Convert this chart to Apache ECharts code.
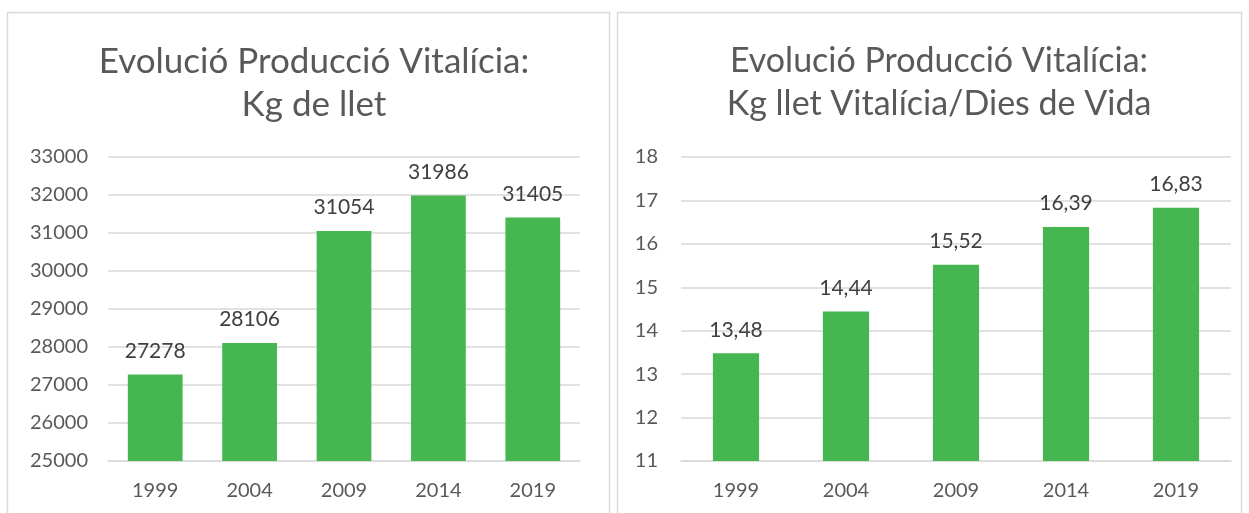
<!DOCTYPE html>
<html lang="ca">
  <head>
    <meta charset="UTF-8" />
    <title>Evolució Producció Vitalícia</title>
    <style>
      html, body { margin: 0; padding: 0; background: #fff; }
      #main { width: 1249px; height: 513px; }
    </style>
  </head>
  <body>
    <div id="main"></div>
  </body>
  <script src="https://cdn.jsdelivr.net/npm/echarts@6/dist/echarts.min.js"></script>
  <script>
    /* globals echarts */
    var years = ["1999", "2004", "2009", "2014", "2019"];
    var kgLlet = [27278, 28106, 31054, 31986, 31405];
    var kgPerDia = [13.48, 14.44, 15.52, 16.39, 16.83];

    var FONT = "Lato";
    var GREEN = "#45B650";
    var GRID = "#d9d9d9";
    var TXT = "#595959";

    var chart = echarts.init(document.getElementById("main"));

    function xAxis(idx) {
      return {
        type: "category",
        gridIndex: idx,
        data: years,
        axisLine: { lineStyle: { color: GRID, width: 1.5 } },
        axisTick: { show: false },
        axisLabel: { color: TXT, fontFamily: FONT, fontSize: 20, margin: 20 }
      };
    }

    function yAxis(idx, min, max, interval, margin) {
      return {
        type: "value",
        gridIndex: idx,
        min: min,
        max: max,
        interval: interval,
        axisLine: { show: false },
        axisTick: { show: false },
        splitLine: { lineStyle: { color: GRID, width: 1.5 } },
        axisLabel: {
          color: TXT, fontFamily: FONT, fontSize: 20, margin: margin,
          formatter: function (v) { return String(v); }
        }
      };
    }

    function barLabel(fmt) {
      return {
        show: true,
        position: "top",
        distance: 13,
        color: "#404040",
        fontFamily: FONT,
        fontSize: 21,
        formatter: fmt
      };
    }

    var option = {
      animation: false,
      graphic: [
        { type: "rect", shape: { x: 7.5, y: 12.5, width: 602, height: 520 },
          style: { fill: "none", stroke: GRID, lineWidth: 1.5 } },
        { type: "rect", shape: { x: 617.5, y: 12.5, width: 624, height: 520 },
          style: { fill: "none", stroke: GRID, lineWidth: 1.5 } }
      ],
      title: [
        {
          text: "Evolució Producció Vitalícia:\nKg de llet",
          left: 309, top: 35, textAlign: "center",
          textStyle: { color: TXT, fontFamily: FONT, fontSize: 35, fontWeight: "normal", lineHeight: 43 }
        },
        {
          text: "Evolució Producció Vitalícia:\nKg llet Vitalícia/Dies de Vida",
          left: 934, top: 35, textAlign: "center",
          textStyle: { color: TXT, fontFamily: FONT, fontSize: 34, fontWeight: "normal", lineHeight: 43 }
        }
      ],
      grid: [
        { left: 108, right: 669, top: 157, bottom: 52 },
        { left: 681, right: 18, top: 157, bottom: 52 }
      ],
      xAxis: [xAxis(0), xAxis(1)],
      yAxis: [yAxis(0, 25000, 33000, 1000, 20), yAxis(1, 11, 18, 1, 23)],
      series: [
        {
          type: "bar", xAxisIndex: 0, yAxisIndex: 0,
          data: kgLlet, barWidth: "58%",
          itemStyle: { color: GREEN },
          label: barLabel("{c}")
        },
        {
          type: "bar", xAxisIndex: 1, yAxisIndex: 1,
          data: kgPerDia, barWidth: "42%",
          itemStyle: { color: GREEN },
          label: barLabel(function (p) { return p.value.toFixed(2).replace(".", ","); })
        }
      ]
    };

    chart.setOption(option);
  </script>
</html>
